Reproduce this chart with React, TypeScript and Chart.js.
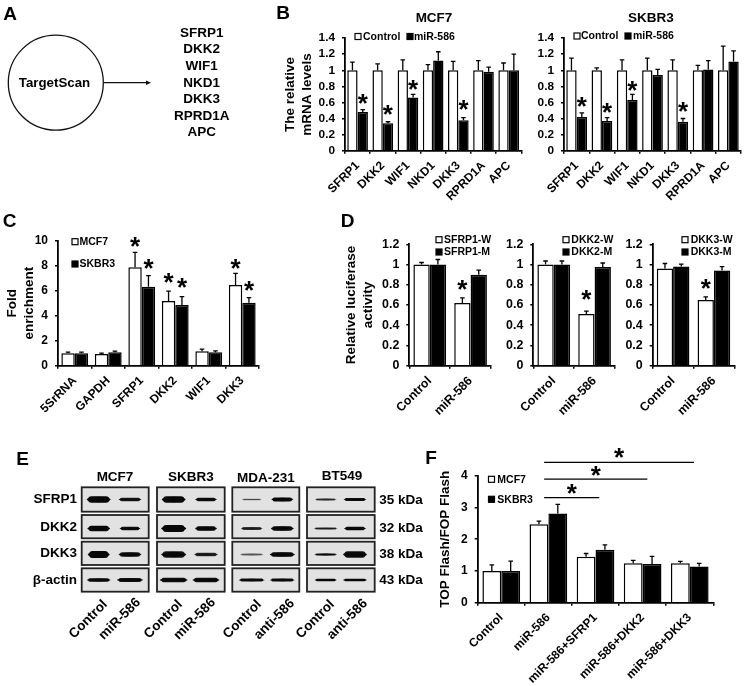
import React, { useEffect, useRef } from "react";
import { Chart, registerables } from "chart.js";

Chart.register(...registerables);

const FONT = "'Liberation Sans', Arial, sans-serif";

// ---- Panel A
const targetGenes = ["SFRP1", "DKK2", "WIF1", "NKD1", "DKK3", "RPRD1A", "APC"];

// ---- Panel B
const bGenes = ["SFRP1", "DKK2", "WIF1", "NKD1", "DKK3", "RPRD1A", "APC"];
const mcf7Control = [1, 1, 1, 1, 1, 1, 1];
const mcf7ControlTop = [1.1, 1.08, 1.13, 1.07, 1.11, 1.12, 1.09];
const mcf7Mir = [0.48, 0.34, 0.66, 1.12, 0.38, 0.98, 1.0];
const mcf7MirTop = [0.51, 0.36, 0.7, 1.23, 0.41, 1.04, 1.2];
const mcf7MirStars = [0.615, 0.473, 0.785, null, 0.54, null, null];
const skbr3Control = [1, 1, 1, 1, 1, 1, 1];
const skbr3ControlTop = [1.15, 1.03, 1.13, 1.15, 1.13, 1.06, 1.3];
const skbr3Mir = [0.42, 0.37, 0.63, 0.94, 0.36, 1.01, 1.11];
const skbr3MirTop = [0.47, 0.41, 0.7, 1.01, 0.4, 1.12, 1.24];
const skbr3MirStars = [0.58, 0.5, 0.777, null, 0.515, null, null];

// ---- Panel C
const cTargets = ["5SrRNA", "GAPDH", "SFRP1", "DKK2", "WIF1", "DKK3"];
const cMcf7 = [1.0, 0.93, 7.87, 5.17, 1.15, 6.45];
const cMcf7Top = [1.08, 1.0, 9.07, 5.97, 1.33, 7.39];
const cMcf7Stars = [null, null, 9.74, 6.86, null, 7.98];
const cSkbr3 = [1.0, 1.08, 6.32, 4.85, 1.07, 5.04];
const cSkbr3Top = [1.08, 1.17, 7.2, 5.52, 1.18, 5.44];
const cSkbr3Stars = [null, null, 7.98, 6.46, null, 6.2];

// ---- Panel D
const dGroups = ["Control", "miR-586"];
const sfrp1W = [1.0, 0.62];
const sfrp1WTop = [1.02, 0.67];
const sfrp1WStars = [null, 0.77];
const sfrp1M = [1.0, 0.9];
const sfrp1MTop = [1.05, 0.945];
const dkk2W = [1.0, 0.51];
const dkk2WTop = [1.035, 0.54];
const dkk2WStars = [null, 0.68];
const dkk2M = [1.0, 0.975];
const dkk2MTop = [1.035, 1.015];
const dkk3W = [0.96, 0.65];
const dkk3WTop = [1.01, 0.68];
const dkk3WStars = [null, 0.78];
const dkk3M = [0.98, 0.94];
const dkk3MTop = [1.005, 0.98];

// ---- Panel E
const blotHeaders = ["MCF7", "SKBR3", "MDA-231", "BT549"];
const blotRows = ["SFRP1", "DKK2", "DKK3", "β-actin"];
const blotWeights = ["35 kDa", "32 kDa", "38 kDa", "43 kDa"];
const blotLanes = ["Control", "miR-586", "Control", "miR-586", "Control", "anti-586", "Control", "anti-586"];
const bandDensity = [
  [1, 0.85, 1, 0.9, 0.45, 1, 0.6, 0.95],
  [1, 0.9, 1, 1, 0.7, 1, 0.7, 1],
  [1, 0.9, 0.9, 0.75, 0.4, 1, 0.9, 0.95],
  [0.95, 0.9, 0.95, 0.95, 0.95, 0.95, 1, 1],
];
const bandThickness = [
  [6, 3, 6, 3.3, 1.3, 3.7, 2, 2.7],
  [5, 3.3, 6.5, 4, 2.7, 4.3, 1.7, 3],
  [6.5, 4.3, 6, 3, 2, 4.3, 2, 5.7],
  [3.3, 3.7, 4, 4, 2.7, 2.7, 2.3, 2.3],
];
const bandSpan = [
  [24, 23, 24, 22, 20, 22, 22, 23],
  [23, 21, 25, 22, 22, 23, 24, 22],
  [22, 23, 25, 24, 24, 25, 23, 24],
  [24, 26, 28, 27, 26, 25, 22, 24],
];

// ---- Panel F
const fGroups = ["Control", "miR-586", "miR-586+SFRP1", "miR-586+DKK2", "miR-586+DKK3"];
const fMcf7 = [1.0, 2.47, 1.45, 1.24, 1.24];
const fMcf7Top = [1.19, 2.57, 1.55, 1.33, 1.3];
const fSkbr3 = [1.0, 2.81, 1.67, 1.22, 1.14];
const fSkbr3Top = [1.31, 3.1, 1.82, 1.46, 1.24];
const sigFrom = [0.91, 0.91, 0.91];
const sigTo = [2.08, 3.1, 4.09];
const sigLevel = [3.31, 3.89, 4.42];
const sigStar = [3.52, 4.09, 4.63];

type Series = { label: string; values: number[]; tops: number[]; stars?: (number | null)[]; dark: boolean };
type Cfg = {
  box: number[];
  plot: number[];
  labels: string[];
  series: Series[];
  yMax: number;
  step: number;
  title?: string | string[];
  legend: number[][];
  barPct: number;
  tickSize: number;
  labelSize: number;
  xPad: number;
  sig?: boolean;
};

const errorAndStars = {
  id: "errorAndStars",
  afterDatasetsDraw(chart: any, _a: any, o: any) {
    const ctx = chart.ctx;
    const y = chart.scales.y;
    const cfg: Cfg = o.cfg;
    ctx.save();
    cfg.series.forEach((s, i) => {
      const meta = chart.getDatasetMeta(i);
      meta.data.forEach((bar: any, j: number) => {
        const top = y.getPixelForValue(s.tops[j]);
        ctx.strokeStyle = "#000";
        ctx.lineWidth = 1.3;
        ctx.beginPath();
        ctx.moveTo(bar.x, bar.y);
        ctx.lineTo(bar.x, top);
        ctx.moveTo(bar.x - 2.3, top);
        ctx.lineTo(bar.x + 2.3, top);
        ctx.stroke();
        const st = s.stars ? s.stars[j] : null;
        if (st != null) drawStar(ctx, bar.x, y.getPixelForValue(st));
      });
    });
    cfg.series.forEach((s, i) => {
      const [sx, sy, tx] = cfg.legend[i];
      const lx = sx - cfg.box[0];
      const ly = sy - cfg.box[1];
      ctx.fillStyle = s.dark ? "#000" : "#fff";
      ctx.strokeStyle = "#000";
      ctx.lineWidth = 1.2;
      ctx.fillRect(lx, ly - 3, 6, 6);
      ctx.strokeRect(lx, ly - 3, 6, 6);
      ctx.fillStyle = "#000";
      ctx.font = `bold 10.5px ${FONT}`;
      ctx.textAlign = "left";
      ctx.textBaseline = "middle";
      ctx.fillText(s.label, tx - cfg.box[0], ly + 0.5);
    });
    if (cfg.sig) {
      const x = chart.scales.x;
      sigFrom.forEach((f, k) => {
        const x0 = x.getPixelForValue(f);
        const x1 = x.getPixelForValue(sigTo[k]);
        const ly = y.getPixelForValue(sigLevel[k]);
        ctx.strokeStyle = "#000";
        ctx.lineWidth = 1.3;
        ctx.beginPath();
        ctx.moveTo(x0, ly);
        ctx.lineTo(x1, ly);
        ctx.stroke();
        drawStar(ctx, (x0 + x1) / 2, y.getPixelForValue(sigStar[k]));
      });
    }
    ctx.restore();
  },
};

function drawStar(ctx: any, x: number, y: number) {
  const size = 26;
  ctx.fillStyle = "#000";
  ctx.font = `bold ${size}px ${FONT}`;
  ctx.textAlign = "center";
  ctx.textBaseline = "alphabetic";
  ctx.fillText("*", x, y + size * 0.41);
}

function BarPanel({ cfg }: { cfg: Cfg }) {
  const ref = useRef<HTMLCanvasElement>(null);
  useEffect(() => {
    const { box, plot } = cfg;
    const chart = new Chart(ref.current as HTMLCanvasElement, {
      type: "bar",
      data: {
        labels: cfg.labels,
        datasets: cfg.series.map((s) => ({
          label: s.label,
          data: s.values,
          backgroundColor: s.dark ? "#000" : "#fff",
          borderColor: "#000",
          borderWidth: 1.5,
          categoryPercentage: cfg.barPct,
          barPercentage: 1,
        })),
      },
      plugins: [errorAndStars],
      options: {
        responsive: false,
        animation: false,
        devicePixelRatio: 1,
        layout: { padding: { top: plot[1] - box[1], right: box[2] - plot[2], left: 0, bottom: 0 } },
        plugins: {
          legend: { display: false },
          title: { display: false },
          tooltip: { enabled: false },
          errorAndStars: { cfg },
        } as any,
        scales: {
          x: {
            afterFit: (s: any) => {
              s.height = box[3] - plot[3];
            },
            grid: { display: true, drawOnChartArea: false, drawTicks: true, tickLength: 3, color: "#000", lineWidth: 1.5 },
            border: { color: "#000", width: 1.8 },
            ticks: {
              autoSkip: false,
              minRotation: 45,
              maxRotation: 45,
              padding: cfg.xPad,
              color: "#000",
              font: { family: FONT, weight: "bold", size: cfg.labelSize },
            },
          },
          y: {
            min: 0,
            max: cfg.yMax,
            afterFit: (s: any) => {
              s.width = plot[0] - box[0];
            },
            title: cfg.title
              ? {
                  display: true,
                  text: cfg.title,
                  color: "#000",
                  padding: 0,
                  font: { family: FONT, weight: "bold", size: 13.5, lineHeight: 1.25 },
                }
              : { display: false },
            grid: { display: true, drawOnChartArea: false, drawTicks: true, tickLength: 3, color: "#000", lineWidth: 1.5 },
            border: { color: "#000", width: 1.8 },
            ticks: {
              stepSize: cfg.step,
              autoSkip: false,
              padding: 7,
              color: "#000",
              font: { family: FONT, weight: "bold", size: cfg.tickSize },
              callback: (v: any) => String(Math.round(Number(v) * 10) / 10),
            },
          },
        },
      } as any,
    });
    return () => chart.destroy();
  }, [cfg]);
  const { box } = cfg;
  return (
    <canvas
      ref={ref}
      width={box[2] - box[0]}
      height={box[3] - box[1]}
      style={{ position: "absolute", left: box[0], top: box[1], width: box[2] - box[0], height: box[3] - box[1] }}
    />
  );
}

const panels: Cfg[] = [
  {
    box: [282, 24, 524, 215],
    plot: [345, 36, 522, 150.7],
    labels: bGenes,
    series: [
      { label: "Control", values: mcf7Control, tops: mcf7ControlTop, dark: false },
      { label: "miR-586", values: mcf7Mir, tops: mcf7MirTop, stars: mcf7MirStars, dark: true },
    ],
    yMax: 1.4,
    step: 0.2,
    title: ["The relative", "mRNA levels"],
    legend: [
      [355, 36.5, 363],
      [407, 36.5, 414],
    ],
    barPct: 0.82,
    tickSize: 11.8,
    labelSize: 12,
    xPad: 5,
  },
  {
    box: [530, 24, 744, 215],
    plot: [564, 35.5, 741, 150.7],
    labels: bGenes,
    series: [
      { label: "Control", values: skbr3Control, tops: skbr3ControlTop, dark: false },
      { label: "miR-586", values: skbr3Mir, tops: skbr3MirTop, stars: skbr3MirStars, dark: true },
    ],
    yMax: 1.4,
    step: 0.2,
    legend: [
      [574, 36, 581],
      [625, 36, 633],
    ],
    barPct: 0.82,
    tickSize: 11.8,
    labelSize: 12,
    xPad: 5,
  },
  {
    box: [4, 225, 262, 430],
    plot: [58, 240.7, 259, 365.7],
    labels: cTargets,
    series: [
      { label: "MCF7", values: cMcf7, tops: cMcf7Top, stars: cMcf7Stars, dark: false },
      { label: "SKBR3", values: cSkbr3, tops: cSkbr3Top, stars: cSkbr3Stars, dark: true },
    ],
    yMax: 10,
    step: 2,
    title: ["Fold", "enrichment"],
    legend: [
      [72, 241.7, 79.5],
      [72, 264, 79.5],
    ],
    barPct: 0.8,
    tickSize: 12,
    labelSize: 12,
    xPad: 5,
  },
  {
    box: [343, 228, 495, 430],
    plot: [409.3, 244.3, 491, 365.7],
    labels: dGroups,
    series: [
      { label: "SFRP1-W", values: sfrp1W, tops: sfrp1WTop, stars: sfrp1WStars, dark: false },
      { label: "SFRP1-M", values: sfrp1M, tops: sfrp1MTop, dark: true },
    ],
    yMax: 1.2,
    step: 0.2,
    title: ["Relative luciferase", "activity"],
    legend: [
      [436, 239.7, 444],
      [436, 252, 444],
    ],
    barPct: 0.8,
    tickSize: 12.4,
    labelSize: 12.4,
    xPad: 5,
  },
  {
    box: [505, 228, 620, 430],
    plot: [533.3, 244.3, 615, 365.7],
    labels: dGroups,
    series: [
      { label: "DKK2-W", values: dkk2W, tops: dkk2WTop, stars: dkk2WStars, dark: false },
      { label: "DKK2-M", values: dkk2M, tops: dkk2MTop, dark: true },
    ],
    yMax: 1.2,
    step: 0.2,
    legend: [
      [563, 239.7, 571.3],
      [563, 252, 571.3],
    ],
    barPct: 0.8,
    tickSize: 12.4,
    labelSize: 12.4,
    xPad: 5,
  },
  {
    box: [625, 228, 744, 430],
    plot: [652.7, 244.3, 734.3, 365.7],
    labels: dGroups,
    series: [
      { label: "DKK3-W", values: dkk3W, tops: dkk3WTop, stars: dkk3WStars, dark: false },
      { label: "DKK3-M", values: dkk3M, tops: dkk3MTop, dark: true },
    ],
    yMax: 1.2,
    step: 0.2,
    legend: [
      [682, 239.7, 690.7],
      [682, 252, 690.7],
    ],
    barPct: 0.8,
    tickSize: 12.4,
    labelSize: 12.4,
    xPad: 5,
  },
  {
    box: [437, 440, 720, 686],
    plot: [477.7, 475.7, 713.3, 602.7],
    labels: fGroups,
    series: [
      { label: "MCF7", values: fMcf7, tops: fMcf7Top, dark: false },
      { label: "SKBR3", values: fSkbr3, tops: fSkbr3Top, dark: true },
    ],
    yMax: 4,
    step: 1,
    title: "TOP Flash/FOP Flash",
    legend: [
      [488.5, 479.3, 497.3],
      [488.5, 499.3, 497.3],
    ],
    barPct: 0.8,
    tickSize: 12,
    labelSize: 12,
    xPad: 5,
    sig: true,
  },
];

// ---- layout of the blot panel and schematic, drawn by a data-less chart
const blotCols = [
  [81.7, 148.7],
  [157, 224.7],
  [232.3, 299.3],
  [307, 374.7],
];
const blotRowBoxes = [
  [487.3, 511.7],
  [515, 538.3],
  [541.7, 565],
  [568.3, 591.7],
];
const bandY = [499.5, 528.5, 554.5, 580];
const laneX = [98.7, 130, 173.7, 206, 251.7, 282.3, 325.7, 355];

const schematic = {
  id: "schematic",
  beforeDraw(chart: any) {
    const ctx = chart.ctx;
    ctx.save();
    ctx.strokeStyle = "#111";
    ctx.lineWidth = 1.3;
    ctx.beginPath();
    ctx.arc(55.8, 82.7, 47.5, 0, Math.PI * 2);
    ctx.stroke();
    ctx.beginPath();
    ctx.moveTo(103.5, 82.7);
    ctx.lineTo(147, 82.7);
    ctx.stroke();
    ctx.fillStyle = "#111";
    ctx.beginPath();
    ctx.moveTo(151, 82.7);
    ctx.lineTo(146, 80.5);
    ctx.lineTo(146, 84.9);
    ctx.closePath();
    ctx.fill();

    blotCols.forEach((c, ci) => {
      blotRowBoxes.forEach((r, ri) => {
        ctx.fillStyle = "#e2e2e2";
        ctx.fillRect(c[0], r[0], c[1] - c[0], r[1] - r[0]);
        ctx.save();
        ctx.beginPath();
        ctx.rect(c[0], r[0], c[1] - c[0], r[1] - r[0]);
        ctx.clip();
        ctx.filter = "blur(0.7px)";
        [0, 1].forEach((side) => {
          const li = ci * 2 + side;
          const d = bandDensity[ri][li];
          const t = bandThickness[ri][li] * 1.1;
          const sp = bandSpan[ri][li];
          const x = laneX[li];
          const y = bandY[ri];
          ctx.fillStyle = `rgba(8,8,8,${d})`;
          ctx.beginPath();
          ctx.ellipse(x, y, sp / 2, t * 0.4, 0, 0, Math.PI * 2);
          ctx.fill();
          ctx.beginPath();
          ctx.roundRect(x - sp * 0.44, y - t / 2, sp * 0.88, t, t / 2);
          ctx.fill();
        });
        ctx.restore();
        ctx.strokeStyle = "#222";
        ctx.lineWidth = 1.8;
        ctx.strokeRect(c[0], r[0], c[1] - c[0], r[1] - r[0]);
      });
    });
    ctx.restore();
  },
};

function Schematic() {
  const ref = useRef<HTMLCanvasElement>(null);
  useEffect(() => {
    const chart = new Chart(ref.current as HTMLCanvasElement, {
      type: "bar",
      data: { labels: [], datasets: [] },
      plugins: [schematic],
      options: {
        responsive: false,
        animation: false,
        devicePixelRatio: 1,
        plugins: { legend: { display: false }, tooltip: { enabled: false } },
        scales: { x: { display: false }, y: { display: false } },
      } as any,
    });
    return () => chart.destroy();
  }, []);
  return <canvas ref={ref} width={744} height={686} style={{ position: "absolute", left: 0, top: 0, width: 744, height: 686 }} />;
}

function T({ x, y, size = 13.5, anchor = "center", rot = 0, children }: any) {
  const tx = anchor === "center" ? "-50%" : anchor === "right" ? "-100%" : "0";
  const ox = anchor === "center" ? "50%" : anchor === "right" ? "100%" : "0%";
  return (
    <div
      style={{
        position: "absolute",
        left: x,
        top: y,
        whiteSpace: "nowrap",
        fontFamily: FONT,
        fontWeight: "bold",
        fontSize: size,
        lineHeight: 1,
        color: "#000",
        transformOrigin: `${ox} 50%`,
        transform: `translate(${tx},-50%)` + (rot ? ` rotate(${rot}deg)` : ""),
      }}
    >
      {children}
    </div>
  );
}

const panelLetters: [string, number, number][] = [
  ["A", 10, 12.5],
  ["B", 283, 11.5],
  ["C", 9.5, 220],
  ["D", 347.5, 220],
  ["E", 22.5, 458],
  ["F", 431, 457],
];
const geneRowY = [32.7, 49.3, 66, 82.7, 99.3, 116, 132.3];
const headerPos = [
  [115, 477.3],
  [191, 476.7],
  [266, 477.7],
  [342, 476.3],
];
const rowLabelY = [499, 527.3, 553.3, 580];
const weightY = [500, 528.3, 554.3, 580.3];
const laneLabelPos = [
  [105, 602],
  [138, 600],
  [180, 602],
  [213, 600],
  [259, 602],
  [292, 601],
  [332, 602],
  [365, 601],
];
const chartTitles: [string, number][] = [
  ["MCF7", 434],
  ["SKBR3", 651],
];

export default function App() {
  useEffect(() => {
    document.body.style.margin = "0";
    document.body.style.background = "#fff";
  }, []);
  return (
    <div style={{ position: "absolute", left: 0, top: 0, width: 744, height: 686, overflow: "hidden", background: "#fff", filter: "blur(0.35px)" }}>
      <Schematic />
      {panels.map((p, i) => (
        <BarPanel key={i} cfg={p} />
      ))}
      {panelLetters.map(([s, x, y]) => (
        <T key={s} x={x} y={y} size={19}>
          {s}
        </T>
      ))}
      <T x={54.5} y={83.3} size={13.3}>
        TargetScan
      </T>
      {targetGenes.map((g, i) => (
        <T key={g} x={201.7} y={geneRowY[i]}>
          {g}
        </T>
      ))}
      {chartTitles.map(([s, x]) => (
        <T key={s} x={x} y={18} size={13.5}>
          {s}
        </T>
      ))}
      {blotHeaders.map((h, i) => (
        <T key={h} x={headerPos[i][0]} y={headerPos[i][1]}>
          {h}
        </T>
      ))}
      {blotRows.map((r, i) => (
        <T key={r} x={77} y={rowLabelY[i]} anchor="right">
          {r}
        </T>
      ))}
      {blotWeights.map((w, i) => (
        <T key={w} x={379.3} y={weightY[i]} anchor="left">
          {w}
        </T>
      ))}
      {blotLanes.map((l, i) => (
        <T key={i} x={laneLabelPos[i][0]} y={laneLabelPos[i][1]} anchor="right" rot={-45} size={13.5}>
          {l}
        </T>
      ))}
    </div>
  );
}
